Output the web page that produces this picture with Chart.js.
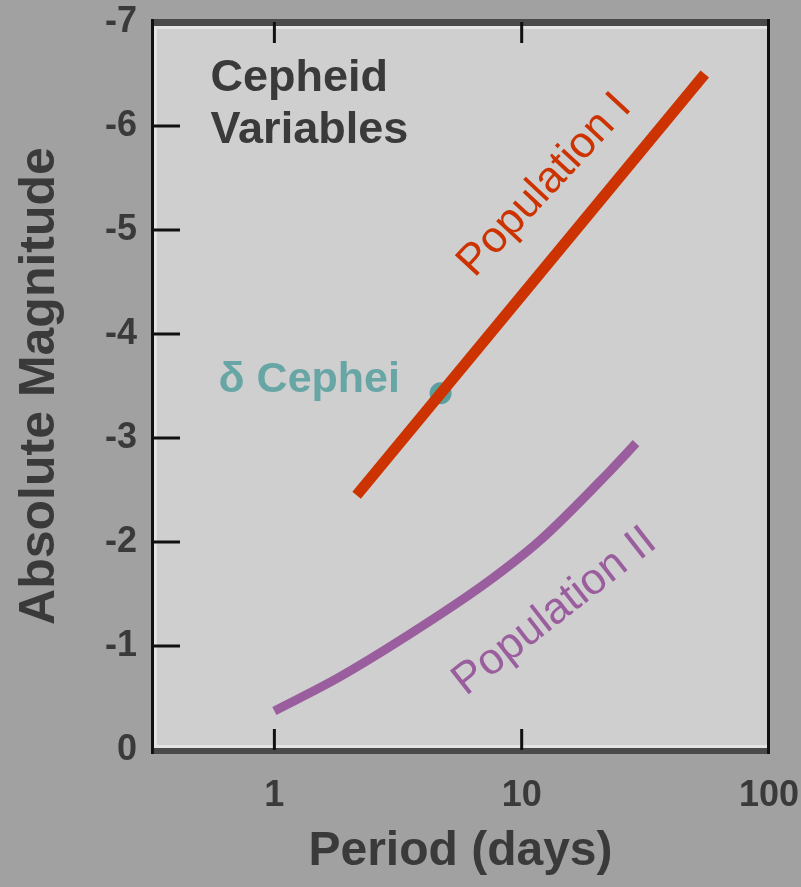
<!DOCTYPE html>
<html>
<head>
<meta charset="utf-8">
<title>Cepheid Variables</title>
<script src="https://cdn.jsdelivr.net/npm/chart.js@4.4.0/dist/chart.umd.min.js"></script>
<style>
  html, body { margin: 0; padding: 0; background: #a1a1a1; }
  canvas { display: block; }
</style>
</head>
<body>
<canvas id="cepheidChart" width="801" height="887"></canvas>
<script>
// --- Data ------------------------------------------------------------------
const popIPeriod = [2.15, 55];
const popIMag = [-2.45, -6.5];

const popIIPeriod = [1, 1.83, 4.66, 7.42, 11.8, 22.7, 29];
const popIIMag = [-0.375, -0.7, -1.3, -1.63, -2.01, -2.68, -2.95];

const deltaCepheiPeriod = [4.7];
const deltaCepheiMag = [-3.43];

const xTicks = [1, 10, 100];
const yTicks = [0, -1, -2, -3, -4, -5, -6, -7];

// --- Colours ----------------------------------------------------------------
const RED = '#cc3300';
const PURPLE = '#9a5e9e';
const TEAL = '#5b9f9f';
const TEXT = '#3a3a3a';
const FONT = "'Liberation Sans', Arial, Helvetica, sans-serif";

const toPoints = (xs, ys) => xs.map((x, i) => ({ x, y: ys[i] }));

// text placed in data coordinates
const notes = [
  { text: 'Cepheid', x: 0.552, y: -6.46, color: TEXT, size: 45, weight: 'bold', align: 'left', angle: 0 },
  { text: 'Variables', x: 0.552, y: -5.96, color: TEXT, size: 45, weight: 'bold', align: 'left', angle: 0 },
  { text: 'δ Cephei', x: 3.22, y: -3.56, color: '#68a6a6', size: 43, weight: 'bold', align: 'right', angle: 0 },
  { text: 'Population I', x: 12.4, y: -5.43, color: RED, size: 44, weight: 'normal', align: 'center', angle: -47 },
  { text: 'Population II', x: 13.6, y: -1.33, color: PURPLE, size: 44, weight: 'normal', align: 'center', angle: -38 }
];

// --- Plot frame, inner ticks and text notes -----------------------------------
const decorPlugin = {
  id: 'decor',
  beforeDraw(chart) {
    const { ctx, chartArea: a } = chart;
    ctx.save();
    ctx.fillStyle = '#a1a1a1';
    ctx.fillRect(0, 0, chart.width, chart.height);
    ctx.fillStyle = '#cfcfcf';
    ctx.fillRect(a.left, a.top, a.right - a.left, a.bottom - a.top);
    ctx.restore();
  },
  afterDatasetsDraw(chart) {
    const { ctx, scales: { x, y } } = chart;
    ctx.save();
    notes.forEach(n => {
      ctx.save();
      ctx.translate(x.getPixelForValue(n.x), y.getPixelForValue(n.y));
      ctx.rotate(n.angle * Math.PI / 180);
      ctx.font = `${n.weight} ${n.size}px ${FONT}`;
      ctx.fillStyle = n.color;
      ctx.textAlign = n.align;
      ctx.textBaseline = 'middle';
      ctx.fillText(n.text, 0, 0);
      ctx.restore();
    });
    ctx.restore();
  },
  afterDraw(chart) {
    const { ctx, chartArea: a, scales: { x, y } } = chart;
    const w = a.right - a.left;
    ctx.save();
    // light inner bevel
    ctx.fillStyle = '#e4e4e4';
    ctx.fillRect(a.left, a.top + 4, w, 3);
    ctx.fillRect(a.left, a.bottom - 5, w, 3);
    ctx.fillRect(a.left + 2, a.top, 3, a.bottom - a.top);
    // dark border
    ctx.fillStyle = '#4a4a4a';
    ctx.fillRect(a.left - 1, a.top - 3, w + 2, 7);
    ctx.fillRect(a.left - 1, a.bottom - 2, w + 2, 6);
    ctx.fillStyle = '#111';
    ctx.fillRect(a.left - 1, a.top - 3, 3, a.bottom - a.top + 7);
    ctx.fillRect(a.right - 2, a.top - 3, 3, a.bottom - a.top + 7);

    // inward tick marks
    ctx.fillStyle = '#111';
    y.ticks.forEach(t => {
      if (t.value === y.min || t.value === y.max) return;
      const py = y.getPixelForValue(t.value);
      ctx.fillRect(a.left, py - 1.5, 28, 3);
    });
    x.ticks.forEach(t => {
      if (t.value >= x.max) return;
      const px = x.getPixelForValue(t.value);
      ctx.fillRect(px - 1.5, a.bottom - 21, 3, 21);
      ctx.fillRect(px - 1.5, a.top, 3, 21);
    });
    ctx.restore();
  }
};

new Chart(document.getElementById('cepheidChart'), {
  type: 'line',
  data: {
    datasets: [
      {
        label: 'Population I',
        data: toPoints(popIPeriod, popIMag),
        borderColor: RED,
        borderWidth: 11,
        borderCapStyle: 'butt',
        pointRadius: 0
      },
      {
        label: 'Population II',
        data: toPoints(popIIPeriod, popIIMag),
        borderColor: PURPLE,
        borderWidth: 9,
        borderCapStyle: 'butt',
        cubicInterpolationMode: 'monotone',
        pointRadius: 0
      },
      {
        label: 'δ Cephei',
        data: toPoints(deltaCepheiPeriod, deltaCepheiMag),
        showLine: false,
        pointRadius: 11,
        pointBackgroundColor: TEAL,
        pointBorderWidth: 0
      }
    ]
  },
  options: {
    responsive: false,
    animation: false,
    layout: { padding: { top: 22, right: 32, left: 0, bottom: 0 } },
    plugins: {
      legend: { display: false },
      tooltip: { enabled: false }
    },
    scales: {
      x: {
        type: 'logarithmic',
        bounds: 'data',
        min: 0.32,
        max: 100,
        afterBuildTicks: s => { s.ticks = xTicks.map(v => ({ value: v })); },
        afterFit: s => {
          s.height = 137;
          s.paddingLeft = 0; s.paddingRight = 0;
        },
        grid: { display: false, drawTicks: false },
        border: { display: false },
        ticks: {
          autoSkip: false,
          maxRotation: 0,
          padding: 24,
          color: TEXT,
          font: { family: FONT, size: 36, weight: 'bold' },
          callback: v => String(v)
        },
        title: {
          display: true,
          text: 'Period (days)',
          color: TEXT,
          font: { family: FONT, size: 48, weight: 'bold' },
          padding: { top: 0, bottom: 6 }
        }
      },
      y: {
        type: 'linear',
        reverse: true,
        min: -7,
        max: 0,
        afterBuildTicks: s => { s.ticks = yTicks.map(v => ({ value: v })); },
        afterFit: s => {
          s.width = 152;
          s.paddingTop = 0; s.paddingBottom = 0;
        },
        grid: { display: false, drawTicks: false },
        border: { display: false },
        ticks: {
          padding: 15,
          color: TEXT,
          font: { family: FONT, size: 36, weight: 'bold' },
          callback: v => String(v)
        },
        title: {
          display: true,
          text: 'Absolute Magnitude',
          color: TEXT,
          font: { family: FONT, size: 50, weight: 'bold' },
          padding: { top: 10, bottom: 0 }
        }
      }
    }
  },
  plugins: [decorPlugin]
});
</script>
</body>
</html>
